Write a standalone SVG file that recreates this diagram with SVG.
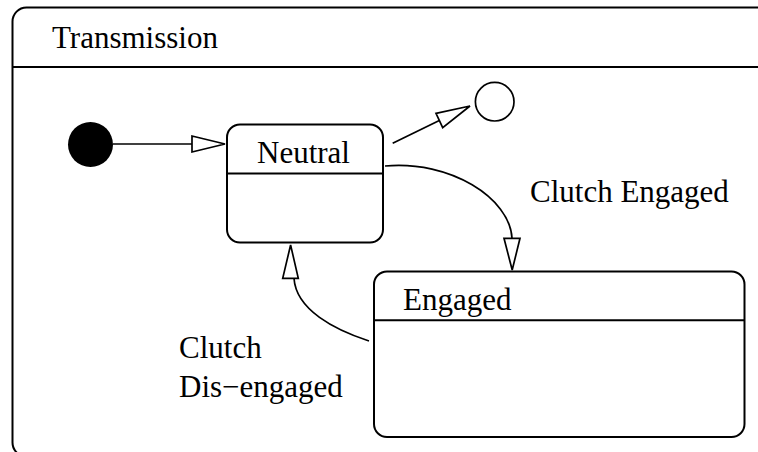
<svg xmlns="http://www.w3.org/2000/svg" width="758" height="452" viewBox="0 0 758 452">
  <style>
    .frame { fill: #ffffff; stroke: #000000; stroke-width: 2; }
    .line { fill: none; stroke: #000000; stroke-width: 2; }
    .conn { fill: none; stroke: #000000; stroke-width: 1.7; }
    .head { fill: #ffffff; stroke: #000000; stroke-width: 1.7; stroke-linejoin: miter; }
    .label { font-family: "Liberation Serif", "Times New Roman", serif; font-size: 31px; fill: #000000; }
  </style>
  <rect width="758" height="452" fill="#ffffff"/>

  <g id="transmission">
    <rect class="frame" x="12.5" y="7.5" width="780" height="449" rx="14" ry="14"/>
    <line class="line" x1="12.5" y1="67" x2="800" y2="67"/>
    <text class="label" x="52" y="48">Transmission</text>
  </g>

  <g id="initial">
    <circle cx="90.5" cy="144.5" r="22.5" fill="#000000"/>
  </g>

  <g id="final">
    <circle cx="494.7" cy="101.7" r="19.3" fill="#ffffff" stroke="#000000" stroke-width="1.7"/>
  </g>

  <g id="neutral">
    <rect class="frame" x="227" y="124.5" width="156" height="118" rx="13" ry="13"/>
    <line class="line" x1="227" y1="173.5" x2="383" y2="173.5"/>
    <text class="label" x="257" y="163">Neutral</text>
  </g>

  <g id="engaged">
    <rect class="frame" x="374" y="271.5" width="370.5" height="165.5" rx="13" ry="13"/>
    <line class="line" x1="374" y1="320.3" x2="744.5" y2="320.3"/>
    <text class="label" x="403" y="310">Engaged</text>
  </g>

  <g id="connectors">
    <path class="conn" d="M113,144 L192,144"/>
    <polygon class="head" points="192,136 225,144 192,152"/>

    <path class="conn" d="M392.7,143.3 L439.3,120.5"/>
    <polygon class="head" points="436,113.3 470,106 442.7,127.7"/>

    <path class="conn" d="M385,166 C450,160 510,198 512,238.3"/>
    <polygon class="head" points="504,238.3 520,238.3 512.2,270"/>

    <path class="conn" d="M369,341 C335,330 296,310 294,278.3"/>
    <polygon class="head" points="282.7,278.3 298.3,278.3 290.6,245"/>

    <text class="label" x="530" y="202">Clutch Engaged</text>
    <text class="label" x="179" y="358">Clutch</text>
    <text class="label" x="179" y="397">Dis−engaged</text>
  </g>
</svg>
